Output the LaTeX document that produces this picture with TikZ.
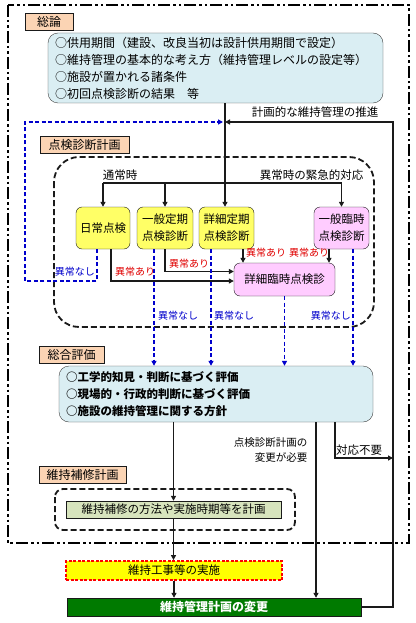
\documentclass[tikz,border=0pt]{standalone}
\usepackage{fontspec}
\setmainfont{Noto Sans CJK JP}
\usepackage{xcolor}
\usepackage{tikz}
\usetikzlibrary{positioning,arrows.meta,calc}
\definecolor{LineDark}{HTML}{1A1A1A}
\definecolor{BoxGray}{HTML}{404040}
\definecolor{LabelPeach}{HTML}{FBD4B4}
\definecolor{InfoBlue}{HTML}{DAEEF3}
\definecolor{KenYellow}{HTML}{FFFF66}
\definecolor{RinjiPink}{HTML}{FFCCFF}
\definecolor{PlanGreen}{HTML}{D7E4BD}
\definecolor{AlertYellow}{HTML}{FFFF00}
\definecolor{AlertRed}{HTML}{FF0000}
\definecolor{HenkoGreen}{HTML}{007A00}
\definecolor{NashiBlue}{HTML}{0000CC}
\definecolor{AriRed}{HTML}{E00000}

\begin{document}
\begin{tikzpicture}[x=1pt, y=-1pt, font=\fontsize{11.5}{14}\selectfont,
    >={Triangle[length=5pt,width=5pt]},
    lbl/.style={draw=LineDark, fill=LabelPeach, minimum height=17pt, inner sep=0pt,
                font=\fontsize{12}{14}\selectfont},
    kenbox/.style={draw=LineDark, fill=KenYellow, rounded corners=6pt,
                   minimum height=42pt, inner sep=0pt, align=center,
                   font=\fontsize{11.5}{17}\selectfont},
    rinjibox/.style={kenbox, fill=RinjiPink},
    link/.style={draw=LineDark, line width=1.5pt, ->},
    nashi/.style={draw=NashiBlue, line width=1.5pt, dash pattern=on 4pt off 2.5pt, ->},
    nashitxt/.style={text=NashiBlue, inner sep=1pt, font=\fontsize{10}{12}\selectfont},
    aritxt/.style={text=AriRed, inner sep=1pt, font=\fontsize{10}{12}\selectfont},
    waku/.style={draw=LineDark, line width=1.8pt, dash pattern=on 6pt off 3pt}]

  \fill[white] (0,0) rectangle (415,623);
  \useasboundingbox (0,0) rectangle (415,623);

  % outer frame
  \draw[line width=2.5pt, dash pattern=on 12pt off 3pt on 2.5pt off 3pt on 2.5pt off 3pt]
    (8,5) rectangle (409,543);

  % general
  \node[lbl, minimum width=48pt] (soronLbl) at (49,22) {総論};
  \node[draw=BoxGray, fill=InfoBlue, rounded corners=10pt, minimum width=335pt,
        minimum height=70pt, text width=321pt, inner xsep=7pt, inner ysep=0pt,
        align=left, font=\fontsize{12}{17}\selectfont] (soronBox) at (215.5,68) {%
    ○供用期間（建設、改良当初は設計供用期間で設定）\\
    ○維持管理の基本的な考え方（維持管理レベルの設定等）\\
    ○施設が置かれる諸条件\\
    ○初回点検診断の結果　等};

  % inspection plan
  \node[lbl, minimum width=89pt] (tenkenLbl) at (84.5,144.5) {点検診断計画};
  \draw[waku, rounded corners=25pt] (54,157) rectangle (374,327);

  \node[kenbox, minimum width=54pt] (nichijo) at (103,228) {日常点検};
  \node[kenbox, minimum width=56pt] (ippanTeiki) at (165,228) {一般定期\\点検診断};
  \node[kenbox, minimum width=55pt] (shosaiTeiki) at (226.5,228) {詳細定期\\点検診断};
  \node[rinjibox, minimum width=55pt] (ippanRinji) at (341.5,228) {一般臨時\\点検診断};
  \node[rinjibox, minimum width=101pt, minimum height=33pt] (shosaiRinji)
    at (284.5,279.5) {詳細臨時点検診};

  \node (tsujoTxt) at (120,175) {通常時};
  \node (kinkyuTxt) at (311.5,175) {異常時の緊急的対応};
  \node (suishinTxt) at (315,112) {計画的な維持管理の推進};

  % evaluation
  \node[lbl, minimum width=65pt] (sogoLbl) at (71.5,355) {総合評価};
  \node[draw=BoxGray, fill=InfoBlue, rounded corners=10pt, minimum width=314pt,
        minimum height=56pt, text width=300pt, inner xsep=7pt, inner ysep=0pt,
        align=left, font=\bfseries\fontsize{11.5}{17}\selectfont] (sogoBox) at (216,394) {%
    ○工学的知見・判断に基づく評価\\
    ○現場的・行政的判断に基づく評価\\
    ○施設の維持管理に関する方針};

  % repair plan
  \node[lbl, minimum width=87pt] (hoshuLbl) at (82.5,475) {維持補修計画};
  \draw[waku, rounded corners=8pt] (55,489) rectangle (295,530);
  \node[draw=LineDark, fill=PlanGreen, minimum width=215pt, minimum height=17pt,
        inner sep=0pt] (hoshuPlan) at (173.5,509.5) {維持補修の方法や実施時期等を計画};

  \node[draw=AlertRed, fill=AlertYellow, line width=1.8pt, dash pattern=on 3pt off 1.5pt,
        minimum width=216pt, minimum height=19pt, inner sep=0pt] (jisshi)
    at (174,570.5) {維持工事等の実施};
  \node[draw=LineDark, fill=HenkoGreen, text=white, minimum width=294pt,
        minimum height=18pt, inner sep=0pt, font=\bfseries\fontsize{12}{14}\selectfont]
    (henko) at (214,607) {維持管理計画の変更};

  % connectors
  \coordinate (gochi) at (225,122);
  \coordinate (modoriR) at (393,122);
  \coordinate (bunkiL) at (103,183);
  \coordinate (bunkiR) at (341.5,183);
  \coordinate (nashiLoop) at (25,281);

  \draw[link] (soronBox.south -| gochi) -- (gochi |- shosaiTeiki.north);
  \draw[link, line width=1.2pt] (henko.east) -| (modoriR) -- (gochi);
  \draw[nashi, shorten >=2pt] ([xshift=-6pt]nichijo.south) |- (nashiLoop) |- (gochi);

  \draw[line width=1.5pt, draw=LineDark] (bunkiL) -- (bunkiR);
  \draw[link] (bunkiL) -- (nichijo);
  \draw[link] (bunkiL -| ippanTeiki) -- (ippanTeiki);
  \draw[link] (bunkiR) -- (ippanRinji);

  \coordinate (teikiOut) at ([xshift=16.5pt]shosaiTeiki.south);
  \coordinate (rinjiOut) at ([xshift=-12.5pt]ippanRinji.south);
  \draw[link] ([xshift=8pt]nichijo.south) |- ([yshift=-1.5pt]shosaiRinji.west);
  \draw[link] (ippanTeiki.south) |- ([yshift=8pt]shosaiRinji.west);
  \draw[link] (teikiOut) -- (teikiOut |- shosaiRinji.north);
  \draw[link] (rinjiOut) -- (rinjiOut |- shosaiRinji.north);

  \coordinate (nashiA) at ([xshift=-11pt]ippanTeiki.south);
  \coordinate (nashiB) at ([xshift=-15.5pt]shosaiTeiki.south);
  \coordinate (nashiC) at (shosaiRinji.south);
  \coordinate (nashiD) at ([xshift=11.5pt]ippanRinji.south);
  \draw[nashi] (nashiA) -- (nashiA |- sogoBox.north);
  \draw[nashi] (nashiB) -- (nashiB |- sogoBox.north);
  \draw[nashi] (nashiC) -- (nashiC |- sogoBox.north);
  \draw[nashi] (nashiD) -- (nashiD |- sogoBox.north);

  \node[nashitxt, anchor=east] (nashiTxt1) at (96,272) {異常なし};
  \node[nashitxt] (nashiTxt2) at (178,316) {異常なし};
  \node[nashitxt] (nashiTxt3) at (234,316) {異常なし};
  \node[nashitxt, anchor=east] (nashiTxt4) at (352,316) {異常なし};
  \node[aritxt] (ariTxt1) at (135,272) {異常あり};
  \node[aritxt] (ariTxt2) at (189,264) {異常あり};
  \node[aritxt] (ariTxt3) at (266,253) {異常あり};
  \node[aritxt] (ariTxt4) at (309,253) {異常あり};

  \coordinate (henkoIn) at ([xshift=100pt]sogoBox.south);
  \coordinate (fuyoOut) at ([xshift=119pt]sogoBox.south);
  \coordinate (fuyoIn) at (393,458);
  \draw[link] (sogoBox.south -| hoshuPlan) -- (hoshuPlan);
  \draw[link] (hoshuPlan.south) -- (hoshuPlan.south |- jisshi.north);
  \draw[link] (jisshi.south) -- (jisshi.south |- henko.north);
  \draw[link] (henkoIn) -- (henkoIn |- henko.north);
  \draw[link, line width=1.2pt] (fuyoOut) |- (fuyoIn);

  \node[anchor=east, align=right, font=\fontsize{10.5}{15}\selectfont] (hitsuyoTxt)
    at (311,450.5) {点検診断計画の\\変更が必要};
  \node (fuyoTxt) at (359,450) {対応不要};
\end{tikzpicture}
\end{document}
